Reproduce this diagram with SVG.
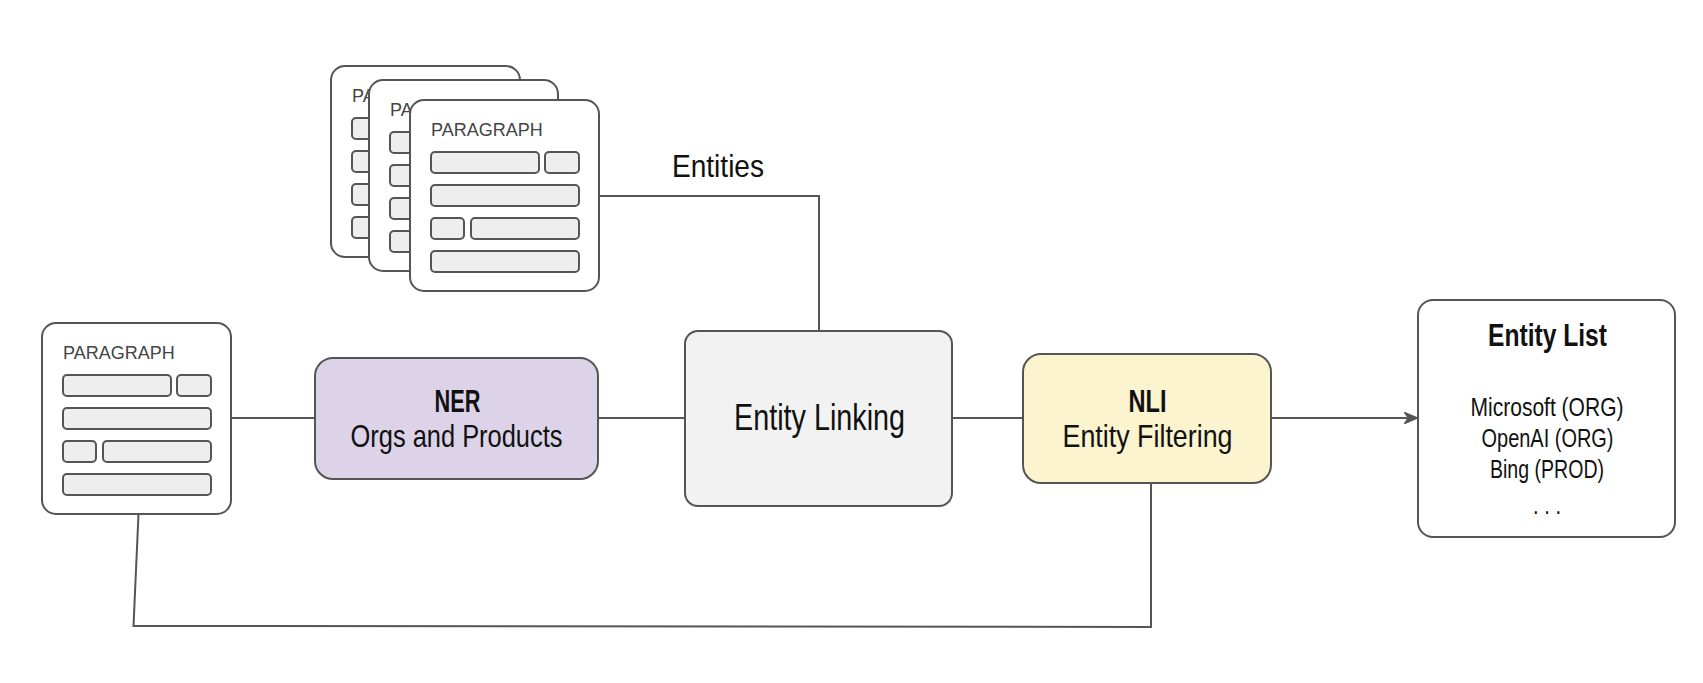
<svg xmlns="http://www.w3.org/2000/svg" xmlns:xlink="http://www.w3.org/1999/xlink" width="1703" height="683" viewBox="0 0 1703 683">
  <defs>
    <style>
      .card { fill: #ffffff; stroke: #555555; stroke-width: 2; }
      .bar { fill: #eeeeee; stroke: #555555; stroke-width: 2; }
      .ptxt { font-family: "Liberation Sans", Arial, sans-serif; font-size: 18px; fill: #444444; }
      .box { stroke: #555555; stroke-width: 2; }
      .lbl { font-family: "Liberation Sans", Arial, sans-serif; fill: #111111; }
      .b { font-weight: bold; }
      .conn { fill: none; stroke: #555555; stroke-width: 2; }
    </style>
    <marker id="arrow" viewBox="0 0 14 12" refX="13" refY="6" markerWidth="14" markerHeight="12" markerUnits="userSpaceOnUse" orient="auto">
      <path d="M0,0 L14,6 L0,12 L4,6 Z" fill="#555555" stroke="#555555" stroke-width="1"/>
    </marker>
    <g id="paragraph">
      <rect class="card" x="0" y="0" width="189" height="191" rx="14"/>
      <text class="ptxt" x="21" y="36">PARAGRAPH</text>
      <rect class="bar" x="21" y="52" width="108" height="21" rx="4"/>
      <rect class="bar" x="135" y="52" width="34" height="21" rx="4"/>
      <rect class="bar" x="21" y="85" width="148" height="21" rx="4"/>
      <rect class="bar" x="21" y="118" width="33" height="21" rx="4"/>
      <rect class="bar" x="61" y="118" width="108" height="21" rx="4"/>
      <rect class="bar" x="21" y="151" width="148" height="21" rx="4"/>
    </g>
  </defs>
  <rect x="0" y="0" width="1703" height="683" fill="#ffffff"/>

  <g id="connectors">
    <path class="conn" d="M232,418 L315,418"/>
    <path class="conn" d="M598,418 L685,418"/>
    <path class="conn" d="M952,418 L1023,418"/>
    <path class="conn" d="M1271,418 L1417,418" marker-end="url(#arrow)"/>
    <path class="conn" d="M599,196 L819,196 L819,331"/>
    <path class="conn" d="M138.5,514 L133.5,626 L1151,627 L1151,483"/>
    <text class="lbl" x="672" y="177" font-size="32" textLength="92" lengthAdjust="spacingAndGlyphs">Entities</text>
  </g>

  <g id="paragraphs-stack">
    <use xlink:href="#paragraph" x="331" y="66"/>
    <use xlink:href="#paragraph" x="369" y="80"/>
    <use xlink:href="#paragraph" x="410" y="100"/>
  </g>

  <g id="paragraph-input">
    <use xlink:href="#paragraph" x="42" y="323"/>
  </g>

  <g id="ner">
    <rect class="box" x="315" y="358" width="283" height="121" rx="18" fill="#dcd3e8"/>
    <text class="lbl b" x="434.5" y="412" font-size="32" textLength="46" lengthAdjust="spacingAndGlyphs">NER</text>
    <text class="lbl" x="350.5" y="447" font-size="32" textLength="212" lengthAdjust="spacingAndGlyphs">Orgs and Products</text>
  </g>

  <g id="entity-linking">
    <rect class="box" x="685" y="331" width="267" height="175" rx="13" fill="#f2f2f2"/>
    <text class="lbl" x="734" y="430" font-size="36" textLength="171" lengthAdjust="spacingAndGlyphs">Entity Linking</text>
  </g>

  <g id="nli">
    <rect class="box" x="1023" y="354" width="248" height="129" rx="18" fill="#fcf3cf"/>
    <text class="lbl b" x="1128.5" y="412" font-size="32" textLength="38" lengthAdjust="spacingAndGlyphs">NLI</text>
    <text class="lbl" x="1062.5" y="447" font-size="32" textLength="170" lengthAdjust="spacingAndGlyphs">Entity Filtering</text>
  </g>

  <g id="entity-list">
    <rect class="box" x="1418" y="300" width="257" height="237" rx="15" fill="#ffffff"/>
    <text class="lbl b" x="1488" y="346" font-size="32" textLength="119" lengthAdjust="spacingAndGlyphs">Entity List</text>
    <text class="lbl" x="1470.5" y="416" font-size="26" textLength="153" lengthAdjust="spacingAndGlyphs">Microsoft (ORG)</text>
    <text class="lbl" x="1481.5" y="447" font-size="26" textLength="132" lengthAdjust="spacingAndGlyphs">OpenAI (ORG)</text>
    <text class="lbl" x="1490" y="478" font-size="26" textLength="114" lengthAdjust="spacingAndGlyphs">Bing (PROD)</text>
    <text class="lbl" x="1533" y="514" font-size="26" textLength="28" lengthAdjust="spacingAndGlyphs">. . .</text>
  </g>
</svg>
